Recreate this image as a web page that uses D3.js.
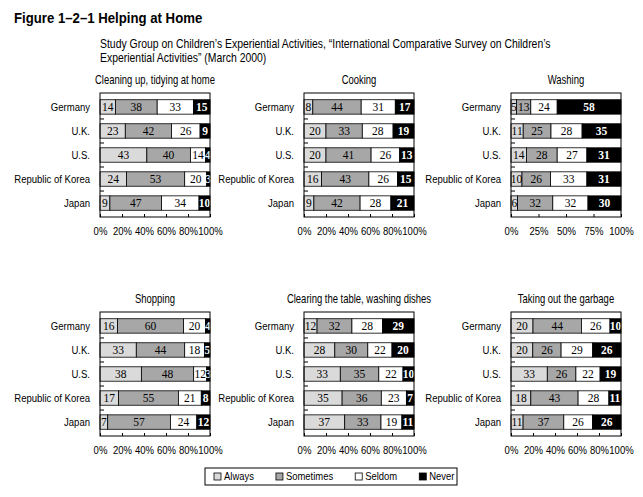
<!DOCTYPE html>
<html>
<head>
<meta charset="utf-8">
<script src="https://cdn.jsdelivr.net/npm/d3@7"></script>
<style>
  body { margin: 0; background: #fff; }
  svg text { font-family: "Liberation Sans", Arial, sans-serif; }
  svg text.num { font-family: "Liberation Serif", "Times New Roman", serif; }
</style>
</head>
<body>
<div id="chart"></div>
<script>
// data
var countries = ["Germany", "U.K.", "U.S.", "Republic of Korea", "Japan"];
var answers = ["Always", "Sometimes", "Seldom", "Never"];
var activities = ["Cleaning up, tidying at home", "Cooking", "Washing",
                  "Shopping", "Clearing the table, washing dishes", "Taking out the garbage"];

// values per country: [Always, Sometimes, Seldom, Never]
var cleaning = [[14, 38, 33, 15], [23, 42, 26, 9], [43, 40, 14, 4], [24, 53, 20, 3], [9, 47, 34, 10]];
var cooking  = [[8, 44, 31, 17], [20, 33, 28, 19], [20, 41, 26, 13], [16, 43, 26, 15], [9, 42, 28, 21]];
var washing  = [[5, 13, 24, 58], [11, 25, 28, 35], [14, 28, 27, 31], [10, 26, 33, 31], [6, 32, 32, 30]];
var shopping = [[16, 60, 20, 4], [33, 44, 18, 5], [38, 48, 12, 3], [17, 55, 21, 8], [7, 57, 24, 12]];
var clearing = [[12, 32, 28, 29], [28, 30, 22, 20], [33, 35, 22, 10], [35, 36, 23, 7], [37, 33, 19, 11]];
var garbage  = [[20, 44, 26, 10], [20, 26, 29, 26], [33, 26, 22, 19], [18, 43, 28, 11], [11, 37, 26, 26]];

var ticks5 = [0, 0.2, 0.4, 0.6, 0.8, 1];
var ticks4 = [0, 0.25, 0.5, 0.75, 1];

var panelValues = [cleaning, cooking, washing, shopping, clearing, garbage];
var panelTicks = [ticks5, ticks5, ticks4, ticks5, ticks5, ticks5];

var colors = ["#dadada", "#a7a7a7", "#ffffff", "#000000"];

// squeeze text horizontally (the original uses a condensed face)
function condense(sel, k) {
  sel.attr("transform", function() {
    var x = +this.getAttribute("x") || 0;
    var y = +this.getAttribute("y") || 0;
    return `translate(${x},${y}) scale(${k},1) translate(${-x},${-y})`;
  });
}

var svgWidth = 643, svgHeight = 497;
var svg = d3.select("#chart").append("svg")
  .attr("width", svgWidth)
  .attr("height", svgHeight);

// title
svg.append("text")
  .attr("x", 14).attr("y", 23)
  .attr("font-size", 15).attr("font-weight", "bold")
  .text("Figure 1\u20132\u20131  Helping at Home")
  .call(condense, 0.88);

svg.append("text")
  .attr("x", 100).attr("y", 48)
  .attr("font-size", 12)
  .text("Study Group on Children\u2019s Experiential Activities, \u201cInternational Comparative Survey on Children\u2019s")
  .call(condense, 0.87);
svg.append("text")
  .attr("x", 100).attr("y", 62)
  .attr("font-size", 12)
  .text("Experiential Activities\u201d (March 2000)")
  .call(condense, 0.87);

var colX = [100, 304, 511];
var rowY = [93, 312];
var w = 110, h = 124;

var stack = d3.stack()
  .keys(d3.range(4))
  .offset(d3.stackOffsetExpand);

panelValues.forEach(function(vals, p) {
  var g = svg.append("g")
    .attr("transform", `translate(${colX[p % 3]}, ${rowY[Math.floor(p / 3)]})`);

  var x = d3.scaleLinear().domain([0, 1]).range([0, w]);
  var y = d3.scaleBand().domain(countries).range([0, h])
    .paddingInner(0.4).paddingOuter(0.28);

  g.append("text")
    .attr("x", w / 2).attr("y", -9)
    .attr("text-anchor", "middle")
    .attr("font-size", 12)
    .text(activities[p])
    .call(condense, 0.79);

  var rows = vals.map(function(v, i) { return { country: countries[i], 0: v[0], 1: v[1], 2: v[2], 3: v[3] }; });
  var series = stack(rows);

  series.forEach(function(s, k) {
    var segs = g.append("g").selectAll("g")
      .data(s)
      .enter().append("g");

    segs.append("rect")
      .attr("x", d => x(d[0]))
      .attr("y", d => y(d.data.country))
      .attr("width", d => x(d[1]) - x(d[0]))
      .attr("height", y.bandwidth())
      .attr("fill", colors[k])
      .attr("stroke", "#000")
      .attr("stroke-width", 0.8);

    segs.append("text")
      .attr("class", "num")
      .attr("x", d => (x(d[0]) + x(d[1])) / 2)
      .attr("y", d => y(d.data.country) + y.bandwidth() / 2)
      .attr("dy", "0.36em")
      .attr("text-anchor", "middle")
      .attr("font-size", 11.5)
      .attr("font-weight", k === 3 ? "bold" : "normal")
      .attr("fill", k === 3 ? "#fff" : "#000")
      .text(d => d.data[k]);
  });

  // frame
  g.append("rect")
    .attr("width", w).attr("height", h)
    .attr("fill", "none")
    .attr("stroke", "#000")
    .attr("stroke-width", 1);

  // ticks between countries
  g.selectAll(".sep")
    .data(countries.slice(1))
    .enter().append("line")
    .attr("x1", 0).attr("x2", 4)
    .attr("y1", d => y(d) - y.step() * y.paddingInner() / 2)
    .attr("y2", d => y(d) - y.step() * y.paddingInner() / 2)
    .attr("stroke", "#000");

  // category labels
  var leftAxis = d3.axisLeft(y).tickSize(0).tickPadding(10);
  g.append("g")
    .call(leftAxis)
    .call(a => a.select(".domain").remove())
    .selectAll("text")
    .attr("font-size", 11.5)
    .attr("fill", "#000")
    .call(condense, 0.83);

  var bottomAxis = d3.axisBottom(x)
    .tickValues(panelTicks[p])
    .tickFormat(d3.format(".0%"))
    .tickSizeInner(-3).tickSizeOuter(0)
    .tickPadding(10);
  g.append("g")
    .attr("transform", `translate(0, ${h})`)
    .call(bottomAxis)
    .call(a => a.select(".domain").remove())
    .call(a => a.selectAll("line").attr("stroke", "#000"))
    .selectAll("text")
    .attr("font-size", 11.5)
    .attr("fill", "#000")
    .call(condense, 0.83);
});

// legend
var legend = svg.append("g").attr("transform", "translate(205, 468)");
legend.append("rect")
  .attr("width", 252).attr("height", 17)
  .attr("fill", "#fff").attr("stroke", "#000");

var lx = 9;
answers.forEach(function(a, i) {
  var item = legend.append("g").attr("transform", `translate(${lx}, 8.5)`);
  item.append("rect")
    .attr("x", 0).attr("y", -3.5)
    .attr("width", 7).attr("height", 7)
    .attr("fill", colors[i])
    .attr("stroke", "#000").attr("stroke-width", 0.8);
  var t = item.append("text")
    .attr("x", 10).attr("dy", "0.36em")
    .attr("font-size", 11)
    .text(a)
    .call(condense, 0.86);
  lx += 10 + t.node().getComputedTextLength() * 0.86 + 22;
});
</script>
</body>
</html>
